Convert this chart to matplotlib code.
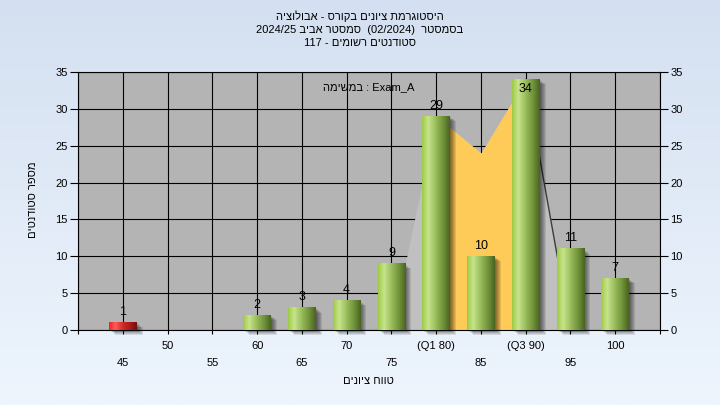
import numpy as np
import matplotlib.pyplot as plt
from matplotlib.colors import LinearSegmentedColormap
from matplotlib.patches import Rectangle
from matplotlib.transforms import offset_copy

plt.rcParams['font.family'] = ['Liberation Sans', 'DejaVu Sans']

# histogram data
grades = [45, 50, 55, 60, 65, 70, 75, 80, 85, 90, 95, 100]
counts = [1, 0, 0, 2, 3, 4, 9, 29, 10, 34, 11, 7]
tick_labels = ['45', '50', '55', '60', '65', '70', '75', '(Q1 80)', '85', '(Q3 90)', '95', '100']
pass_grade = 55

# background area series (yellow between the quartiles)
area_x = [75, 80, 85, 90, 95]
area_y = [0, 29, 24, 34, 0]
q1_grade, q3_grade = 80, 90


def heb(s):
    # matplotlib has no bidi support, so hebrew is given in visual order
    return s[::-1]


title_lines = [
    heb('היסטוגרמת ציונים בקורס - אבולוציה'),
    '2024/25 ' + heb('סמסטר אביב') + '  (02/2024)  ' + heb('בסמסטר'),
    '117 - ' + heb('סטודנטים רשומים'),
]
task_text = heb('במשימה') + ' : Exam_A'
y_title = heb('מספר סטודנטים')
x_title = heb('טווח ציונים')

W, H = 720, 405
fig = plt.figure(figsize=(W / 100, H / 100), dpi=100)

# light blue gradient background
bg = fig.add_axes([0, 0, 1, 1], zorder=-10)
bg_cmap = LinearSegmentedColormap.from_list('bg', ['#d4e0f1', '#eef5fd'])
bg.imshow(np.linspace(0, 1, 256)[:, None], cmap=bg_cmap, aspect='auto', extent=(0, 1, 0, 1))
bg.axis('off')

ax = fig.add_axes([78 / W, (H - 330) / H, 582 / W, 258 / H])
ax.set_facecolor('#b4b4b4')
ax.set_axisbelow(True)

xs = np.array(area_x)
ys = np.array(area_y)
ax.fill_between(xs, ys, color='#c0c0c0', lw=0, zorder=2)
inside = (xs >= q1_grade) & (xs <= q3_grade)
ax.fill_between(xs[inside], ys[inside], color='#ffcb58', lw=0, zorder=2.1)
ax.plot(xs[xs >= q3_grade], ys[xs >= q3_grade], color='#3c3c3c', lw=1, zorder=2.2)

green = LinearSegmentedColormap.from_list('green', [
    (0, '#9dcb45'), (0.22, '#c8e48e'), (0.5, '#97bb5a'), (0.8, '#6a8c36'), (1, '#4a6322')])
red = LinearSegmentedColormap.from_list('red', [
    (0, '#ee2222'), (0.22, '#ff5c5c'), (0.5, '#d02a2a'), (0.8, '#a01818'), (1, '#701010')])
grad = np.linspace(0, 1, 64)[None, :]

bar_w = 3.1
ymax = 35
for g, c in zip(grades, counts):
    if c == 0:
        continue
    x0 = g - bar_w / 2
    # soft drop shadow
    for k in range(1, 7):
        tr = offset_copy(ax.transData, fig=fig, x=k, y=-0.8 * k, units='dots')
        ax.add_patch(Rectangle((x0, 0), bar_w, c, transform=tr, color='black',
                               alpha=0.1, lw=0, zorder=2.5, clip_on=False))
    cmap = red if g < pass_grade else green
    ax.imshow(grad, cmap=cmap, extent=(x0, x0 + bar_w, 0, c), aspect='auto',
              zorder=3, interpolation='bilinear')
    if c > ymax - 2.3:
        off = -9
    else:
        off = 5.5
    ax.annotate(str(c), (g, c), xytext=(0, off), textcoords='offset points',
                ha='center', va='baseline', fontsize=9, zorder=4)

ax.set_xlim(40, 105)
ax.set_ylim(0, ymax)

major_pos = [40] + grades[1::2] + [105]
major_lab = [''] + tick_labels[1::2] + ['']
ax.set_xticks(major_pos, major_lab)
ax.set_xticks(grades[0::2], tick_labels[0::2], minor=True)
ax.tick_params(axis='x', which='both', length=3.1, width=0.8, labelsize=8, direction='out')
ax.tick_params(axis='x', which='major', pad=4.8)
ax.tick_params(axis='x', which='minor', pad=17.4)

ax.set_yticks(range(0, 36, 5))
ax.tick_params(axis='y', which='both', left=True, right=True, labelleft=True,
               labelright=True, length=5.8, width=0.8, pad=1.5, labelsize=8)

ax.grid(True, which='both', color='black', lw=0.8)
for s in ax.spines.values():
    s.set_linewidth(0.8)
    s.set_color('black')

ax.text(0.5, 1 - (90 - 72) / 258, task_text, transform=ax.transAxes,
        ha='center', va='baseline', fontsize=8, zorder=5)

for line, base in zip(title_lines, [20.5, 33, 45.5]):
    fig.text(0.5, 1 - base / H, line, ha='center', va='baseline', fontsize=8)

fig.text(368 / W, 1 - 380.5 / H, x_title, ha='center', va='center', fontsize=8)
fig.text(33.3 / W, 1 - 200 / H, y_title, ha='center', va='center', rotation=90, fontsize=8)

fig.savefig('out.png', dpi=100)
